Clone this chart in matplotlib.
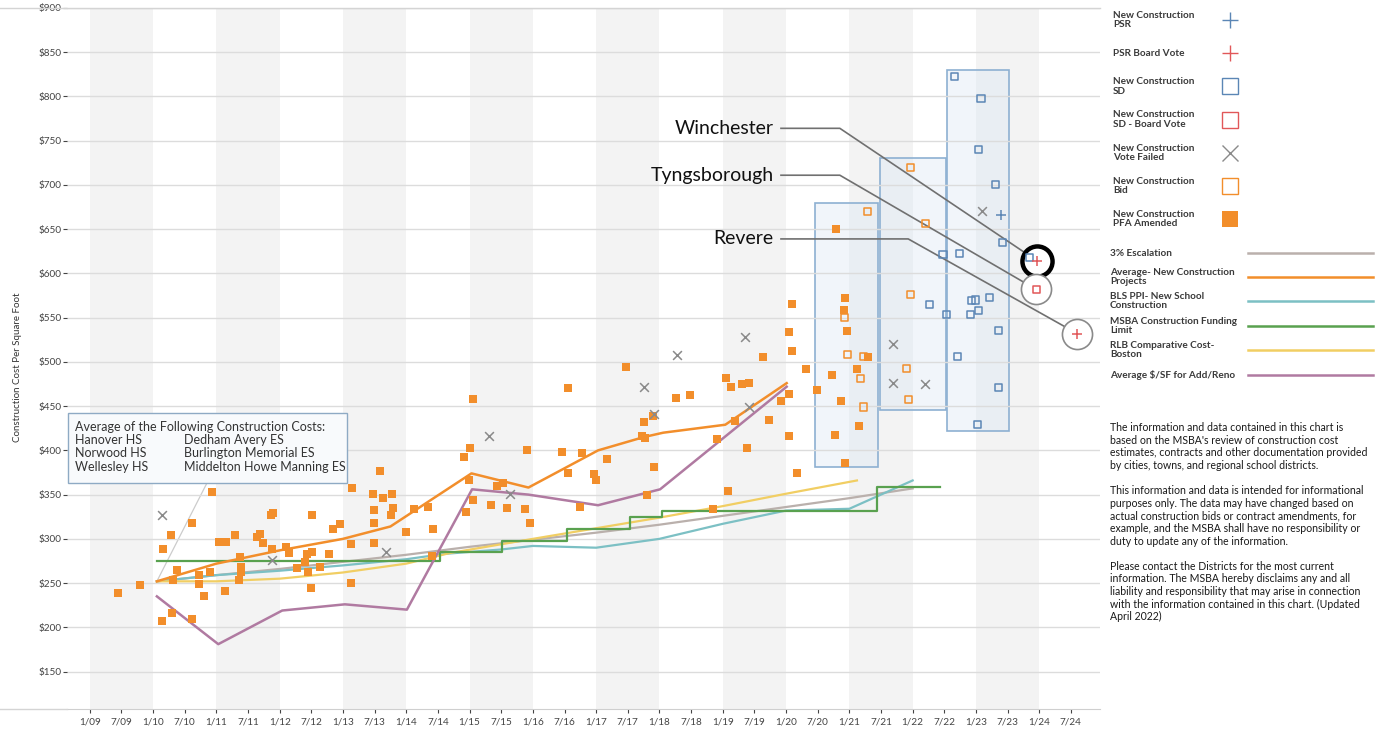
import matplotlib
matplotlib.use("Agg")
import matplotlib.pyplot as plt
from matplotlib.patches import Rectangle

plt.rcParams['font.family'] = ['Lato', 'DejaVu Sans']

# ---------------- data (decimal year, $/sq ft) ----------------
pfa_x = [2009.44, 2009.79, 2010.14, 2010.16, 2010.28, 2010.30, 2010.31, 2010.37, 2010.61, 2010.61,
         2010.72, 2010.72, 2010.81, 2010.90, 2010.93, 2011.04, 2011.15, 2011.13, 2011.29, 2011.37,
         2011.39, 2011.39, 2011.35, 2011.64, 2011.69, 2011.74, 2011.87, 2011.90, 2011.88, 2012.10,
         2012.14, 2012.28, 2012.40, 2012.44, 2012.43, 2012.50, 2012.51, 2012.51, 2012.64, 2012.78,
         2012.85, 2012.96, 2012.92, 2013.12, 2013.13, 2013.15, 2013.48, 2013.49, 2013.49, 2013.49,
         2013.58, 2013.63, 2013.77, 2013.79, 2013.76, 2013.99, 2014.13, 2014.35, 2014.43, 2014.41,
         2014.91, 2015.00, 2015.06, 2014.99, 2015.05, 2014.94, 2015.34, 2015.43, 2015.53, 2015.59,
         2015.88, 2015.90, 2015.96, 2016.46, 2016.56, 2016.56, 2016.77, 2016.97, 2017.00, 2016.75,
         2017.17, 2017.47, 2017.75, 2017.72, 2017.77, 2017.90, 2017.91, 2017.80, 2018.26, 2018.48,
         2018.84, 2018.91, 2019.05, 2019.13, 2019.09, 2019.19, 2019.31, 2019.42, 2019.38, 2019.64,
         2019.73, 2019.92, 2020.05, 2020.05, 2020.09, 2020.10, 2020.04, 2020.17, 2020.32, 2020.49,
         2020.79, 2020.93, 2020.92, 2020.97, 2020.72, 2020.87, 2021.12, 2021.30, 2021.16, 2020.77,
         2020.93]
pfa_y = [239, 248, 207, 289, 304, 216, 253, 265, 318, 209,
         259, 249, 235, 263, 353, 297, 296, 241, 304, 280,
         268, 262, 254, 302, 306, 295, 327, 329, 288, 291,
         284, 267, 274, 263, 283, 245, 327, 285, 268, 283,
         311, 317, 374, 294, 250, 357, 351, 333, 318, 295,
         377, 346, 351, 335, 327, 308, 334, 336, 311, 281,
         392, 403, 458, 366, 344, 330, 338, 360, 363, 335,
         334, 400, 318, 398, 375, 470, 397, 373, 367, 336,
         390, 494, 432, 416, 414, 439, 381, 350, 459, 463,
         334, 413, 482, 472, 354, 433, 475, 476, 403, 506,
         434, 456, 464, 534, 565, 512, 416, 375, 492, 468,
         650, 572, 559, 535, 485, 456, 492, 506, 427, 417,
         386]

bid_x = [2021.28, 2020.93, 2020.97, 2021.22, 2021.17, 2021.22, 2021.96, 2022.20, 2021.97, 2021.91, 2021.94]
bid_y = [670, 550, 508, 506, 481, 449, 720, 656, 576, 493, 457]

sd_x = [2022.66, 2023.08, 2023.04, 2023.31, 2023.42, 2022.48, 2022.74, 2022.27, 2022.54, 2022.93,
        2023.00, 2023.22, 2023.04, 2022.92, 2023.35, 2022.71, 2023.35, 2023.02, 2023.84]
sd_y = [823, 798, 740, 701, 635, 621, 623, 565, 554, 569,
        570, 573, 558, 554, 535, 506, 471, 429, 618]

failed_x = [2010.14, 2011.88, 2013.68, 2015.31, 2015.64, 2017.76, 2017.91, 2018.27, 2019.35, 2019.42,
            2021.69, 2021.69, 2022.20, 2023.10]
failed_y = [327, 276, 285, 416, 351, 472, 441, 508, 528, 449, 520, 476, 475, 671]

psr_x = [2023.39]
psr_y = [666]

psr_vote_x = [2023.97, 2024.60]
psr_vote_y = [614, 532]

sd_vote_x = [2023.95]
sd_vote_y = [582]

# highlighted projects: label, point x, point y, label height, elbow x, bold circle
callouts = [("Winchester", 2023.97, 614, 764, 2020.85, True),
            ("Tyngsborough", 2023.95, 582, 711, 2020.85, False),
            ("Revere", 2024.60, 532, 639, 2021.93, False)]

# SD ranges shown as boxes
box_x0 = [2020.46, 2021.49, 2022.54]
box_x1 = [2021.46, 2022.53, 2023.53]
box_lo = [381, 446, 422]
box_hi = [680, 730, 830]

esc_x = [2010.06, 2011, 2012, 2013, 2014, 2015, 2016, 2017, 2018, 2019, 2020, 2021, 2022]
esc_y = [252, 259, 266, 274, 282, 291, 299, 307, 316, 326, 336, 346, 357]

avg_x = [2010.06, 2011, 2012, 2013, 2013.75, 2015.03, 2015.93, 2017.03, 2017.75, 2018.06, 2019.04, 2020.01]
avg_y = [252, 272, 287, 300, 314, 374, 358, 400, 415, 420, 429, 476]

bls_x = [2010.06, 2011, 2012, 2013, 2014, 2014.6, 2015.5, 2016, 2017, 2018, 2019, 2020, 2021, 2022]
bls_y = [252, 259, 264, 270, 277, 283, 288, 292, 290, 300, 317, 332, 334, 366]

msba_x = [2010.06, 2014.53, 2015.51, 2016.54, 2017.54, 2018.04, 2021.43, 2022.43]
msba_y = [275, 285, 298, 311, 325, 332, 359, 359]

rlb_x = [2010.06, 2011, 2012, 2013, 2014, 2014.69, 2016, 2017, 2018, 2019, 2020, 2021.12]
rlb_y = [252, 252, 255, 262, 272, 284, 300, 312, 324, 337, 351, 366]

reno_x = [2010.06, 2011.03, 2012.04, 2013.03, 2014.01, 2015.04, 2015.93, 2017.03, 2018.01, 2020.01]
reno_y = [235, 181, 219, 226, 220, 356, 350, 338, 356, 472]

tick_labels = ['1/09', '7/09', '1/10', '7/10', '1/11', '7/11', '1/12', '7/12', '1/13', '7/13',
               '1/14', '7/14', '1/15', '7/15', '1/16', '7/16', '1/17', '7/17', '1/18', '7/18',
               '1/19', '7/19', '1/20', '7/20', '1/21', '7/21', '1/22', '7/22', '1/23', '7/23',
               '1/24', '7/24']
y_ticks = [150, 200, 250, 300, 350, 400, 450, 500, 550, 600, 650, 700, 750, 800, 850, 900]
band_years = [2009, 2011, 2013, 2015, 2017, 2019, 2021, 2023]

schools_left = ["Hanover HS", "Norwood HS", "Wellesley HS"]
schools_right = ["Dedham Avery ES", "Burlington Memorial ES", "Middelton Howe Manning ES"]

note_text = ("The information and data contained in this chart is\n"
             "based on the MSBA's review of construction cost\n"
             "estimates, contracts and other documentation provided\n"
             "by cities, towns, and regional school districts.\n\n"
             "This information and data is intended for informational\n"
             "purposes only. The data may have changed based on\n"
             "actual construction bids or contract amendments, for\n"
             "example, and the MSBA shall have no responsibility or\n"
             "duty to update any of the information.\n\n"
             "Please contact the Districts for the most current\n"
             "information. The MSBA hereby disclaims any and all\n"
             "liability and responsibility that may arise in connection\n"
             "with the information contained in this chart. (Updated\n"
             "April 2022)")

# colours
ORANGE = '#f28e2b'
BLUE = '#5b86b5'
RED = '#e15759'
GREY_X = '#8a8a8a'
C_ESC = '#bab0ac'
C_BLS = '#7cc0c4'
C_MSBA = '#59a14f'
C_RLB = '#f1ce63'
C_RENO = '#b07aa1'

W, H = 1384, 736
fig = plt.figure(figsize=(W / 100, H / 100), dpi=100)
ax = fig.add_axes([67 / W, 1 - 709 / H, (1100 - 67) / W, (709 - 8) / H])
ax.set_xlim(2008.64, 2024.96)
ax.set_ylim(107.7, 900)

for yr in band_years:
    ax.axvspan(yr, yr + 1, color='#f3f3f3', lw=0, zorder=0)

ax.set_yticks(y_ticks)
ax.set_yticklabels(['$' + str(v) for v in y_ticks])
ax.set_xticks([2009 + 0.5 * i for i in range(len(tick_labels))])
ax.set_xticklabels(tick_labels)
ax.grid(axis='y', color='#dcdcdc', lw=1, zorder=0.5)
ax.tick_params(axis='y', labelsize=7.2, colors='#444444', length=3, width=0.8, pad=1)
ax.tick_params(axis='x', labelsize=7.2, colors='#444444', length=3, width=0.8, pad=3)
for tl in ax.get_xticklines() + ax.get_yticklines():
    tl.set_color('#aaaaaa')
for s in ['left', 'right', 'top']:
    ax.spines[s].set_visible(False)
ax.spines['bottom'].set_color('#cfcfcf')

# SD boxes
for x0, x1, lo, hi in zip(box_x0, box_x1, box_lo, box_hi):
    ax.add_patch(Rectangle((x0, lo), x1 - x0, hi - lo, facecolor='#dce8f3', alpha=0.4,
                           edgecolor='none', zorder=1))
    ax.add_patch(Rectangle((x0, lo), x1 - x0, hi - lo, facecolor='none',
                           edgecolor='#8db0d2', lw=1.2, zorder=1.2))

# trend lines
ax.plot(esc_x, esc_y, color=C_ESC, lw=1.6, zorder=2)
ax.plot(bls_x, bls_y, color=C_BLS, lw=1.6, zorder=2)
ax.plot(rlb_x, rlb_y, color=C_RLB, lw=1.6, zorder=2)
ax.plot(msba_x, msba_y, color=C_MSBA, lw=1.6, drawstyle='steps-post', zorder=2.1)
ax.plot(reno_x, reno_y, color=C_RENO, lw=1.8, zorder=2.2)
ax.plot(avg_x, avg_y, color=ORANGE, lw=1.8, zorder=2.2)

# callout lines and circles
for name, px, py, ty, ex, bold in callouts:
    ax.plot([2019.92, ex, px], [ty, ty, py], color='#707070', lw=1.2, zorder=3, clip_on=False)
    ax.text(2019.80, ty, name, ha='right', va='center', fontsize=14, color='#111111', zorder=5)
    ax.scatter([px], [py], s=470, facecolor='white', edgecolor='black' if bold else '#8a8a8a',
               linewidths=3.2 if bold else 1.2, zorder=3.5, clip_on=False)

# markers
ax.scatter(pfa_x, pfa_y, marker='s', s=30, color=ORANGE, linewidths=0, zorder=4)
ax.scatter(bid_x, bid_y, marker='s', s=26, facecolor='none', edgecolor=ORANGE, linewidths=1.1, zorder=4)
ax.scatter(sd_x, sd_y, marker='s', s=26, facecolor='none', edgecolor=BLUE, linewidths=1.1, zorder=4)
ax.scatter(failed_x, failed_y, marker='x', s=40, color=GREY_X, linewidths=1.1, zorder=4)
ax.scatter(psr_x, psr_y, marker='+', s=45, color=BLUE, linewidths=1.1, zorder=4)
ax.scatter(psr_vote_x, psr_vote_y, marker='+', s=45, color=RED, linewidths=1.1, zorder=4.5)
ax.scatter(sd_vote_x, sd_vote_y, marker='s', s=26, facecolor='none', edgecolor=RED, linewidths=1.1, zorder=4.5)

# thin leader from the note box to the start of the average line
ax.plot([2010.85, avg_x[0]], [363, avg_y[0]], color='#cccccc', lw=0.9, zorder=1.5)

# ---------------- overlay in pixel coordinates ----------------
lax = fig.add_axes([0, 0, 1, 1], zorder=10)
lax.set_xlim(0, W)
lax.set_ylim(H, 0)
lax.axis('off')

lax.plot([0, 1100], [8, 8], color='#d4d4d4', lw=1)
lax.plot([0, 67], [709, 709], color='#d4d4d4', lw=1)

fig.text(18 / W, 1 - 367 / H, "Construction Cost Per Square Foot", rotation=90,
         ha='center', va='center', fontsize=7, color='#333333')

# note box
lax.add_patch(Rectangle((68, 413), 279, 70, facecolor='#f8fafc', edgecolor='#8eaac4', lw=1))
lax.text(75, 427, "Average of the Following Construction Costs:", fontsize=9,
         color='#333333', va='center')
for i, (a, b) in enumerate(zip(schools_left, schools_right)):
    lax.text(75, 440 + 13.3 * i, a, fontsize=9, color='#333333', va='center')
    lax.text(184, 440 + 13.3 * i, b, fontsize=9, color='#333333', va='center')

# legend: markers
marker_items = [("New Construction\nPSR", dict(marker='+', color=BLUE, ms=12, mew=1)),
                ("PSR Board Vote", dict(marker='+', color=RED, ms=12, mew=1)),
                ("New Construction\nSD", dict(marker='s', mfc='none', mec=BLUE, ms=11, mew=1)),
                ("New Construction\nSD - Board Vote", dict(marker='s', mfc='none', mec=RED, ms=11, mew=1)),
                ("New Construction\nVote Failed", dict(marker='x', color=GREY_X, ms=11, mew=1)),
                ("New Construction\nBid", dict(marker='s', mfc='none', mec=ORANGE, ms=11, mew=1)),
                ("New Construction\nPFA Amended", dict(marker='s', color=ORANGE, ms=11, mew=0))]
for i, (lab, kw) in enumerate(marker_items):
    yy = 20 + 33.2 * i
    lax.text(1113, yy, lab, fontsize=7.2, color='#3a3a3a', va='center', linespacing=1.05,
             fontweight='bold')
    lax.plot([1230], [yy], linestyle='none', **kw)

# legend: lines
line_items = [("3% Escalation", C_ESC, 253),
              ("Average- New Construction\nProjects", ORANGE, 277),
              ("BLS PPI- New School\nConstruction", C_BLS, 301),
              ("MSBA Construction Funding\nLimit", C_MSBA, 326),
              ("RLB Comparative Cost-\nBoston", C_RLB, 350),
              ("Average $/SF for Add/Reno", C_RENO, 375)]
for lab, col, yy in line_items:
    lax.text(1110, yy, lab, fontsize=7.2, color='#3a3a3a', va='center', linespacing=1.1,
             fontweight='bold')
    lax.plot([1248, 1373], [yy, yy], color=col, lw=1.8)

lax.text(1110, 422, note_text, fontsize=7.6, color='#1a1a1a', va='top', linespacing=1.18)

fig.savefig('out.png', dpi=100)
